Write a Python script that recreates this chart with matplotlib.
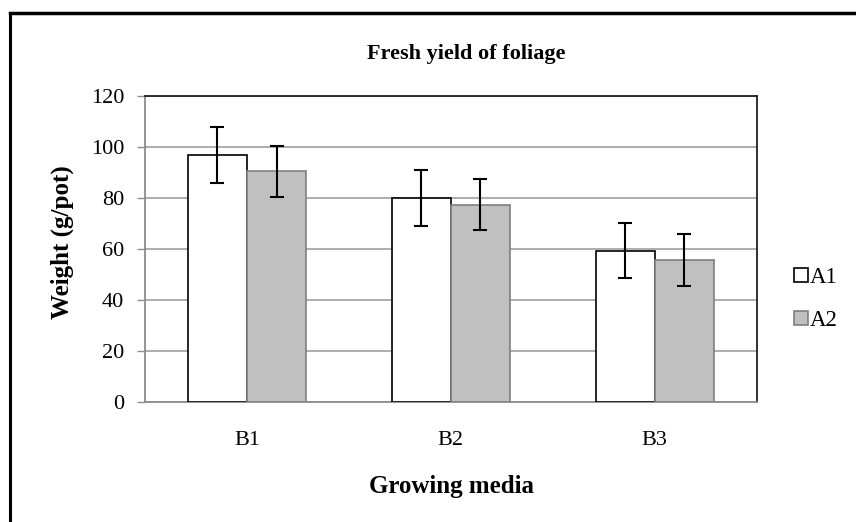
import numpy as np
import matplotlib
matplotlib.use("Agg")
import matplotlib.pyplot as plt
from matplotlib.lines import Line2D

plt.rcParams['font.family'] = ['Liberation Serif', 'DejaVu Serif']

# data
media = ['B1', 'B2', 'B3']
series = ['A1', 'A2']
a1_mean = [97.0, 80.0, 59.2]
a1_err = [11.0, 11.0, 10.8]
a2_mean = [90.5, 77.3, 55.6]
a2_err = [10.0, 10.0, 10.2]
y_ticks = [0, 20, 40, 60, 80, 100, 120]

W, H = 856, 522
fig = plt.figure(figsize=(W / 100, H / 100), dpi=100)
ax = fig.add_axes([145 / W, 1 - 401.7 / H, 611.7 / W, 305.7 / H])

x = np.arange(len(media))
bw = 0.29
err_kw = dict(ecolor='black', elinewidth=1.5, capsize=5, capthick=1.5)
ax.bar(x - bw / 2, a1_mean, bw, yerr=a1_err, color='white',
       edgecolor='black', linewidth=1.2, error_kw=err_kw, label=series[0], zorder=3)
ax.bar(x + bw / 2, a2_mean, bw, yerr=a2_err, color='#c0c0c0',
       edgecolor='#7f7f7f', linewidth=1.2, error_kw=err_kw, label=series[1], zorder=3)

ax.set_xlim(-0.5, len(media) - 0.5)
ax.set_ylim(0, 120)
ax.set_yticks(y_ticks)
ax.set_xticks(x)
ax.set_xticklabels(media)
ax.yaxis.grid(True, color='#a0a0a0', linewidth=1.2, zorder=0)
ax.set_axisbelow(True)

ax.tick_params(axis='y', direction='out', length=6, width=1, color='#8c8c8c',
               labelsize=16, pad=9)
ax.tick_params(axis='x', length=0, labelsize=16, pad=21)

for side in ['left', 'bottom']:
    ax.spines[side].set_color('#8c8c8c')
    ax.spines[side].set_linewidth(1.3)
for side in ['top', 'right']:
    ax.spines[side].set_color('#202020')
    ax.spines[side].set_linewidth(1.3)

fig.text(466 / W, 1 - 54 / H, 'Fresh yield of foliage', ha='center', va='center',
         fontsize=16, fontweight='bold')
fig.text(62 / W, 1 - 242 / H, 'Weight (g/pot)', ha='center', va='center',
         rotation=90, fontsize=18, fontweight='bold')
fig.text(451 / W, 1 - 486 / H, 'Growing media', ha='center', va='center',
         fontsize=18, fontweight='bold')

# legend
handles, labels = ax.get_legend_handles_labels()
leg = fig.legend(handles, labels, loc='center left',
                 bbox_to_anchor=(785 / W, 1 - 299 / H), frameon=False,
                 fontsize=16.5, handlelength=0.6, handleheight=0.6,
                 handletextpad=0.1, labelspacing=0.95, borderaxespad=0)

# outer frame (image is cropped on the right and bottom)
fig.add_artist(Line2D([10 / W, 10 / W], [0, 1 - 13 / H], transform=fig.transFigure,
                      color='black', linewidth=2.2))
fig.add_artist(Line2D([10 / W, 1], [1 - 13 / H, 1 - 13 / H], transform=fig.transFigure,
                      color='black', linewidth=2.5))

fig.savefig('out.png', dpi=100)
